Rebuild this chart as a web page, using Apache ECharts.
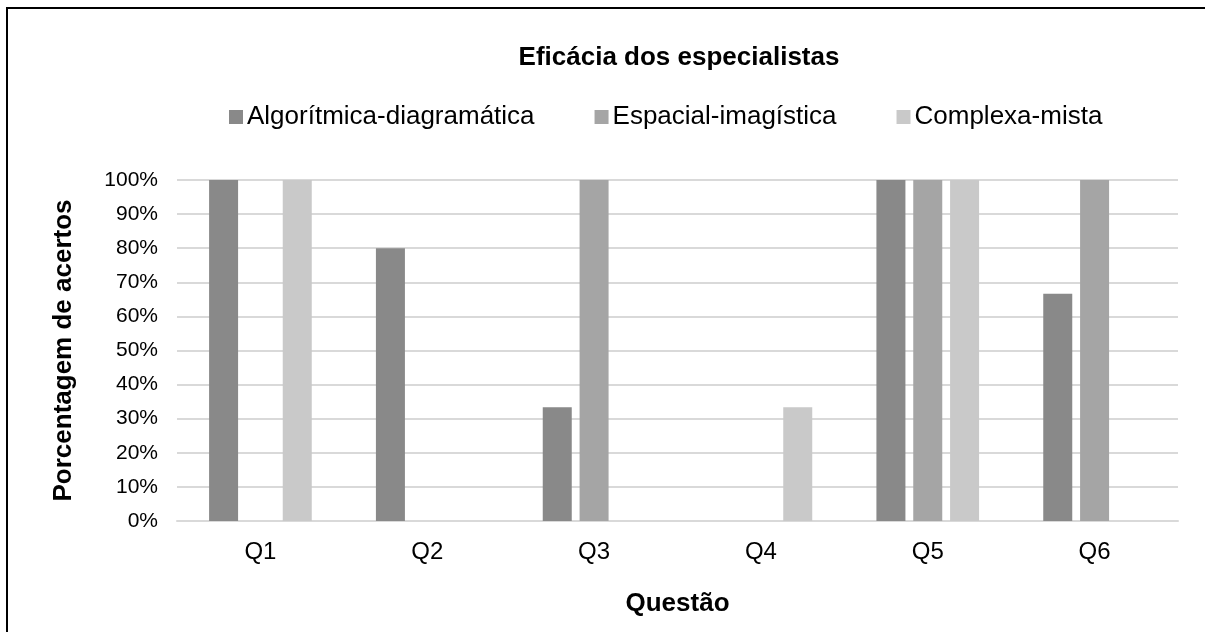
<!DOCTYPE html>
<html>
<head>
<meta charset="utf-8">
<script src="https://cdn.jsdelivr.net/npm/echarts@6/dist/echarts.min.js"></script>
<style>
  html, body { margin: 0; padding: 0; background: #fff; }
  #chart { width: 1205px; height: 632px; }
</style>
</head>
<body>
<div id="chart"></div>
<script>
// Questions on the x axis
const questoes = ['Q1', 'Q2', 'Q3', 'Q4', 'Q5', 'Q6'];
// Share of correct answers (%) per specialist profile
const algoritmica = [100, 80, 33.33, 0, 100, 66.67];
const espacial = [0, 0, 100, 0, 100, 100];
const complexa = [100, 0, 0, 33.33, 100, 0];
const nomesSeries = ['Algorítmica-diagramática', 'Espacial-imagística', 'Complexa-mista'];
const cores = ['#898989', '#a5a5a5', '#c9c9c9'];

const FONT = '"Liberation Sans", Arial, sans-serif';
const chart = echarts.init(document.getElementById('chart'), null, { renderer: 'canvas' });

const valores = [algoritmica, espacial, complexa];

chart.setOption({
  animation: false,
  backgroundColor: '#ffffff',
  color: cores,
  graphic: [{
    type: 'rect',
    shape: { x: 7, y: 8, width: 1240, height: 660 },
    style: { fill: 'none', stroke: '#000', lineWidth: 2 },
    silent: true
  }],
  title: {
    text: 'Eficácia dos especialistas',
    left: 674,
    textAlign: 'center',
    top: 40,
    textStyle: { fontFamily: FONT, fontSize: 26, fontWeight: 'bold', color: '#000' }
  },
  legend: {
    top: 99,
    left: 224,
    itemWidth: 14,
    itemHeight: 14,
    itemGap: 60,
    icon: 'rect',
    textStyle: { fontFamily: FONT, fontSize: 26, color: '#000', padding: [0, 0, 0, -1] },
    data: nomesSeries
  },
  grid: { left: 177, right: 27, top: 180, bottom: 111, containLabel: false },
  xAxis: {
    type: 'category',
    data: questoes,
    name: 'Questão',
    nameLocation: 'middle',
    nameGap: 70,
    nameTextStyle: { fontFamily: FONT, fontSize: 26, fontWeight: 'bold', color: '#000' },
    axisLine: { lineStyle: { color: '#d9d9d9', width: 2 } },
    axisTick: { show: false },
    axisLabel: { fontFamily: FONT, fontSize: 24, color: '#000', margin: 19 }
  },
  yAxis: {
    type: 'value',
    min: 0,
    max: 100,
    interval: 10,
    name: 'Porcentagem de acertos',
    nameLocation: 'middle',
    nameRotate: 90,
    nameGap: 100,
    nameTextStyle: { fontFamily: FONT, fontSize: 26, fontWeight: 'bold', color: '#000' },
    axisLine: { show: false },
    axisTick: { show: false },
    splitLine: { lineStyle: { color: '#d9d9d9', width: 2 } },
    axisLabel: {
      fontFamily: FONT, fontSize: 21, color: '#000', margin: 19,
      formatter: v => v + '%'
    }
  },
  series: nomesSeries.map((nome, i) => ({
    name: nome,
    type: 'bar',
    data: valores[i],
    barWidth: 29,
    barGap: '27%',
    itemStyle: { color: cores[i] }
  }))
});
</script>
</body>
</html>
